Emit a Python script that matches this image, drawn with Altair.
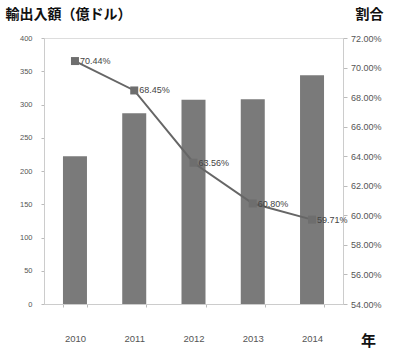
import altair as alt
import pandas as pd

years = ["2010", "2011", "2012", "2013", "2014"]
trade = [222, 287, 307, 308, 344]
share = [0.7044, 0.6845, 0.6356, 0.6080, 0.5971]
share_labels = ["70.44%", "68.45%", "63.56%", "60.80%", "59.71%"]
left_ticks = [0, 50, 100, 150, 200, 250, 300, 350, 400]
right_ticks = [0.54, 0.56, 0.58, 0.60, 0.62, 0.64, 0.66, 0.68, 0.70, 0.72]

df = pd.DataFrame({"year": years, "trade": trade, "share": share, "label": share_labels})

FONT = "Liberation Sans"
CJK = "Noto Sans CJK JP"

x = alt.X("year:N", scale=alt.Scale(paddingInner=0.595, paddingOuter=0.32),
          axis=alt.Axis(title="年", titleFont=CJK, titleFontSize=15, titleFontWeight="bold",
                        titleColor="#111", titleAngle=0, titleX=324, titleY=36,
                        titleAlign="center", titleBaseline="middle",
                        labelAngle=0, labelFont=FONT, labelFontSize=9.5, labelColor="#555",
                        labelPadding=26, tickBand="extent", tickSize=3, tickColor="#bbb",
                        domainColor="#ccc"))

bars = alt.Chart(df).mark_bar(color="#7a7a7a").encode(
    x=x,
    y=alt.Y("trade:Q", scale=alt.Scale(domain=[0, 400], nice=False),
            axis=alt.Axis(values=left_ticks, title="輸出入額（億ドル）", titleFont=CJK,
                          titleFontSize=14, titleFontWeight="bold", titleColor="#111",
                          titleAngle=0, titleX=-39, titleY=-24, titleAlign="left",
                          titleBaseline="middle", labelFont=FONT, labelFontSize=7.5,
                          labelColor="#555", tickSize=3, tickColor="#bbb", domainColor="#ccc",
                          grid=False, labelPadding=9)),
)

yr = alt.Y("share:Q", scale=alt.Scale(domain=[0.54, 0.72], nice=False),
           axis=alt.Axis(orient="right", values=right_ticks, format=".2%", title="割合",
                         titleFont=CJK, titleFontSize=14, titleFontWeight="bold",
                         titleColor="#111", titleAngle=0, titleX=12, titleY=-24,
                         titleAlign="left", titleBaseline="middle", labelFont=FONT,
                         labelFontSize=9, labelColor="#555", tickSize=4, tickColor="#bbb",
                         domainColor="#ccc", grid=False, labelPadding=3.5))

line = alt.Chart(df).mark_line(color="#666666", strokeWidth=2).encode(x=x, y=yr)
pts = alt.Chart(df).mark_point(shape="square", filled=True, size=64, color="#6e6e6e", opacity=1).encode(x=x, y=yr)
txt = alt.Chart(df).mark_text(align="left", dx=5, fontSize=9, font=FONT, color="#444").encode(
    x=x, y=yr, text="label:N")

right = alt.layer(line, pts, txt)

chart = alt.layer(bars, right).resolve_scale(y="independent").properties(
    width=299, height=266,
    autosize=alt.AutoSizeParams(type="none"),
    padding={"left": 44, "top": 38, "right": 50, "bottom": 49},
).configure_view(stroke=None).configure(background="white")

chart.save("out.html", embed_options={"renderer": "svg", "actions": False})
